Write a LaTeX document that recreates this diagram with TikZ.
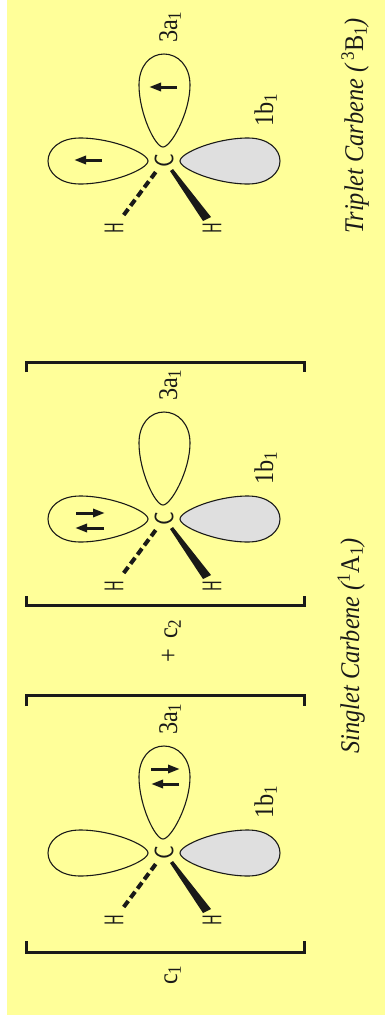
\documentclass[tikz,border=0pt]{standalone}
\usepackage{fontspec}
\setmainfont{Liberation Serif}
\usepackage{tikz}
\usetikzlibrary{calc,arrows.meta}
\definecolor{pagefill}{HTML}{FFFF99}
\definecolor{lobefill}{HTML}{DFDFDF}
\definecolor{inkblack}{HTML}{1A1A18}
\newcommand{\squeezed}[2][.9]{\scalebox{#1}[1]{#2}}
\tikzset{
  % --- molecule parts ---
  lobe/.style={draw=inkblack, line width=1.1pt, line join=round},
  atom/.style={rotate=90, inner sep=0pt, text=inkblack, font=\fontsize{27}{30}\selectfont\sffamily},
  orblabel/.style={rotate=90, anchor=base, inner sep=0pt, text=inkblack,
                   font=\fontsize{27}{30}\selectfont},
  hashbond/.style={draw=inkblack, line width=4pt, dash pattern=on 7.5pt off 4pt,
                   shorten <=5pt, shorten >=7.5pt},
  wedgebond/.style={fill=inkblack},
  spin/.style={draw=inkblack, line width=3pt,
               -{Triangle[length=12pt,width=8pt]}},
  % --- brackets and captions ---
  bracket/.style={draw=inkblack, line width=3pt},
  statelabel/.style={rotate=90, anchor=base, inner sep=0pt, text=inkblack,
                     font=\fontsize{27}{30}\selectfont\itshape},
}
% one carbene at (#1,#2), lobes in local coordinates around the carbon
\newcommand{\carbene}[2]{%
  \begin{scope}[shift={(#1,#2)}]
    \node[atom] (C) at (0,0) {\squeezed[.85]{C}};
    \node[atom] (HL) at (-50,67) {\squeezed[.6]{H}};
    \node[atom] (HR) at (48,67) {\squeezed[.6]{H}};
    % lobes
    \draw[lobe] (-16,0) .. controls (-16,-8) and (-52,-23) .. (-84,-23)
        .. controls (-104,-23) and (-116,-12) .. (-116,0)
        .. controls (-116,12) and (-104,23) .. (-84,23)
        .. controls (-52,23) and (-16,8) .. (-16,0) -- cycle;
    \draw[lobe] (-1,-14) .. controls (-9,-14) and (-25,-48) .. (-25,-76)
        .. controls (-25,-95) and (-14,-107) .. (0,-107)
        .. controls (14,-107) and (26,-95) .. (26,-76)
        .. controls (26,-48) and (7,-14) .. (-1,-14) -- cycle;
    \draw[lobe, fill=lobefill] (16,0) .. controls (16,-8) and (52,-23) .. (84,-23)
        .. controls (104,-23) and (116,-12) .. (116,0)
        .. controls (116,12) and (104,23) .. (84,23)
        .. controls (52,23) and (16,8) .. (16,0) -- cycle;
    % bonds
    \coordinate (WA) at (9,8);
    \coordinate (WB) at (47,56);
    \coordinate (WC) at (39,60);
    \coordinate (WD) at (6,10);
    \draw[hashbond] (C) -- (HL);
    \fill[wedgebond] (WA) -- (WB) -- (WC) -- (WD) -- cycle;
    % labels
    \node[orblabel] (LA) at (13,-134) {\squeezed{3a\textsubscript{1}}};
    \node[orblabel] (LB) at (109,-51) {\squeezed{1b\textsubscript{1}}};
  \end{scope}}
\begin{document}
\begin{tikzpicture}[x=1pt,y=-1pt]
  \useasboundingbox (0,0) rectangle (385,1021);
  \fill[pagefill] (7,0) rectangle (385,1015);

  % triplet, top of the page
  \carbene{164}{161}
  \draw[spin] (177,87) -- (149,87);
  \draw[spin] (102,160) -- (74,160);
  \node[statelabel] (tlabel) at (363,126) {\squeezed{Triplet Carbene (\,\textsuperscript{\textup{3}}\textup{B\textsubscript{1}})}};

  % singlet, second term
  \carbene{164}{519}
  \draw[spin] (76,513) -- (105,513);
  \draw[spin] (104,528) -- (75,528);
  \draw[bracket] (26,372) |- (304,362) -- (304,372);
  \draw[bracket] (26,596) |- (304,605) -- (304,596);
  \node[orblabel] (ctwo) at (177,641) {\squeezed{+ \,c\textsubscript{2}}};

  % singlet, first term
  \carbene{164}{853}
  \draw[spin] (151,769) -- (180,769);
  \draw[spin] (179,784) -- (151,784);
  \draw[bracket] (26,706) |- (304,695) -- (304,706);
  \draw[bracket] (26,941) |- (304,952) -- (304,941);
  \node[orblabel] (cone) at (177,975) {\squeezed{c\textsubscript{1}}};
  \node[statelabel] (slabel) at (359,646) {\squeezed{Singlet Carbene (\textsuperscript{\textup{1}}\textup{A\textsubscript{1}})}};
\end{tikzpicture}
\end{document}
